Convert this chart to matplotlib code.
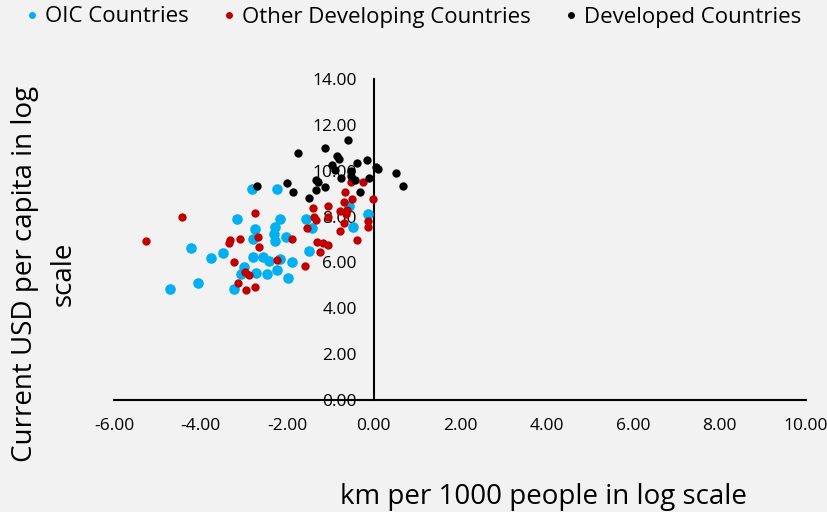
import matplotlib
matplotlib.use("Agg")
import matplotlib.pyplot as plt
from matplotlib.lines import Line2D

plt.rcParams['font.family'] = ['Open Sans', 'DejaVu Sans']

oic_x = [-2.80, -3.16, -2.74, -4.23, -2.79, -3.49, -3.76, -2.79, -2.99, -3.07, -2.72,
         -4.05, -4.70, -3.22, -2.22, -2.16, -1.56, -0.12, -2.28, -2.30, -2.28, -1.42,
         -0.48, -2.03, -1.50, -2.55, -2.41, -2.16, -1.89, -2.22, -2.46, -1.98, -0.56]
oic_y = [9.19, 7.89, 7.44, 6.62, 7.03, 6.42, 6.18, 6.25, 5.81, 5.49, 5.53,
         5.09, 4.85, 4.85, 9.19, 7.89, 7.89, 8.11, 7.56, 7.24, 6.93, 7.52,
         7.55, 7.11, 6.48, 6.22, 6.06, 6.14, 6.01, 5.66, 5.49, 5.30, 8.46]

dev_x = [-2.74, -4.43, -5.26, -3.32, -3.33, -3.09, -2.68, -2.65, -3.22, -2.97, -2.89,
         -3.13, -2.94, -2.75, -0.53, -0.25, -0.65, -0.50, -0.02, -0.68, -1.06, -1.41,
         -0.62, -0.77, -0.63, -1.37, -1.33, -1.06, -0.69, -0.12, -0.12, -1.53, -0.77,
         -1.88, -0.39, -1.31, -1.17, -1.06, -1.24, -2.22, -1.58]
dev_y = [8.14, 7.99, 6.95, 6.98, 6.83, 7.03, 7.09, 6.67, 6.01, 5.60, 5.45,
         5.12, 4.81, 4.94, 9.52, 9.49, 9.05, 8.77, 8.77, 8.62, 8.46, 8.36,
         8.29, 8.24, 8.11, 7.96, 7.87, 7.97, 7.72, 7.81, 7.54, 7.49, 7.39,
         7.04, 6.98, 6.89, 6.86, 6.76, 6.46, 6.12, 5.83]

dvd_x = [-0.58, -1.12, -1.75, -0.85, -0.79, -0.95, -0.90, -0.39, -0.16, 0.06, 0.10,
         0.53, 0.68, -0.51, -0.52, -0.76, -0.43, -0.11, -1.33, -1.29, -1.12, -1.33,
         -2.00, -1.87, -1.50, -0.31, -2.69]
dvd_y = [11.34, 11.01, 10.78, 10.64, 10.50, 10.27, 10.04, 10.34, 10.45, 10.17, 10.06,
         9.91, 9.35, 9.97, 9.76, 9.67, 9.58, 9.70, 9.58, 9.51, 9.29, 9.17,
         9.47, 9.05, 8.81, 9.08, 9.33]

series_names = ["OIC Countries", "Other Developing Countries", "Developed Countries"]
colors = ["#00B0F0", "#C00000", "#000000"]
x_ticks = [-6, -4, -2, 0, 2, 4, 6, 8, 10]
y_ticks = [0, 2, 4, 6, 8, 10, 12, 14]

bg = "#F2F2F2"
fig = plt.figure(figsize=(8.27, 5.12), dpi=100, facecolor=bg)
ax = fig.add_axes([114/827, 112/512, 692/827, 321/512])
ax.set_facecolor(bg)

ax.scatter(oic_x, oic_y, s=58, color=colors[0], linewidths=0, zorder=3)
ax.scatter(dev_x, dev_y, s=36, color=colors[1], linewidths=0, zorder=4)
ax.scatter(dvd_x, dvd_y, s=36, color=colors[2], linewidths=0, zorder=5)

ax.set_xlim(-6, 10)
ax.set_ylim(0, 14)
ax.set_xticks(x_ticks)
ax.set_yticks(y_ticks)
ax.set_xticklabels([f"{v:.2f}" for v in x_ticks])
ax.set_yticklabels([f"{v:.2f}" for v in y_ticks])

for s in ["top", "right"]:
    ax.spines[s].set_visible(False)
ax.spines["left"].set_position(("data", 0))
ax.spines["bottom"].set_position(("data", 0))
ax.spines["left"].set_linewidth(1.5)
ax.spines["bottom"].set_linewidth(1.5)
ax.spines["left"].set_zorder(2)
ax.tick_params(axis="both", length=0, labelsize=12.5, colors="#000000")
ax.tick_params(axis="x", pad=13)
ax.tick_params(axis="y", pad=12)
for lab in ax.get_yticklabels():
    lab.set_zorder(6)

fig.text(543/827, 1 - 497/512, "km per 1000 people in log scale", fontsize=20,
         ha="center", va="center")
fig.text(44/827, 1 - 274/512, "Current USD per capita in log\nscale", fontsize=20,
         ha="center", va="center", rotation=90, multialignment="center",
         linespacing=1.5)

handles = [Line2D([], [], marker="o", linestyle="", markersize=5,
                  markerfacecolor=c, markeredgewidth=0) for c in colors]
fig.legend(handles, series_names, loc="center", bbox_to_anchor=(0.497, 1 - 17/512),
           ncol=3, frameon=False, fontsize=16, handletextpad=0.1,
           columnspacing=1.3, handlelength=1.0)

fig.savefig("out.png", dpi=100, facecolor=bg)
